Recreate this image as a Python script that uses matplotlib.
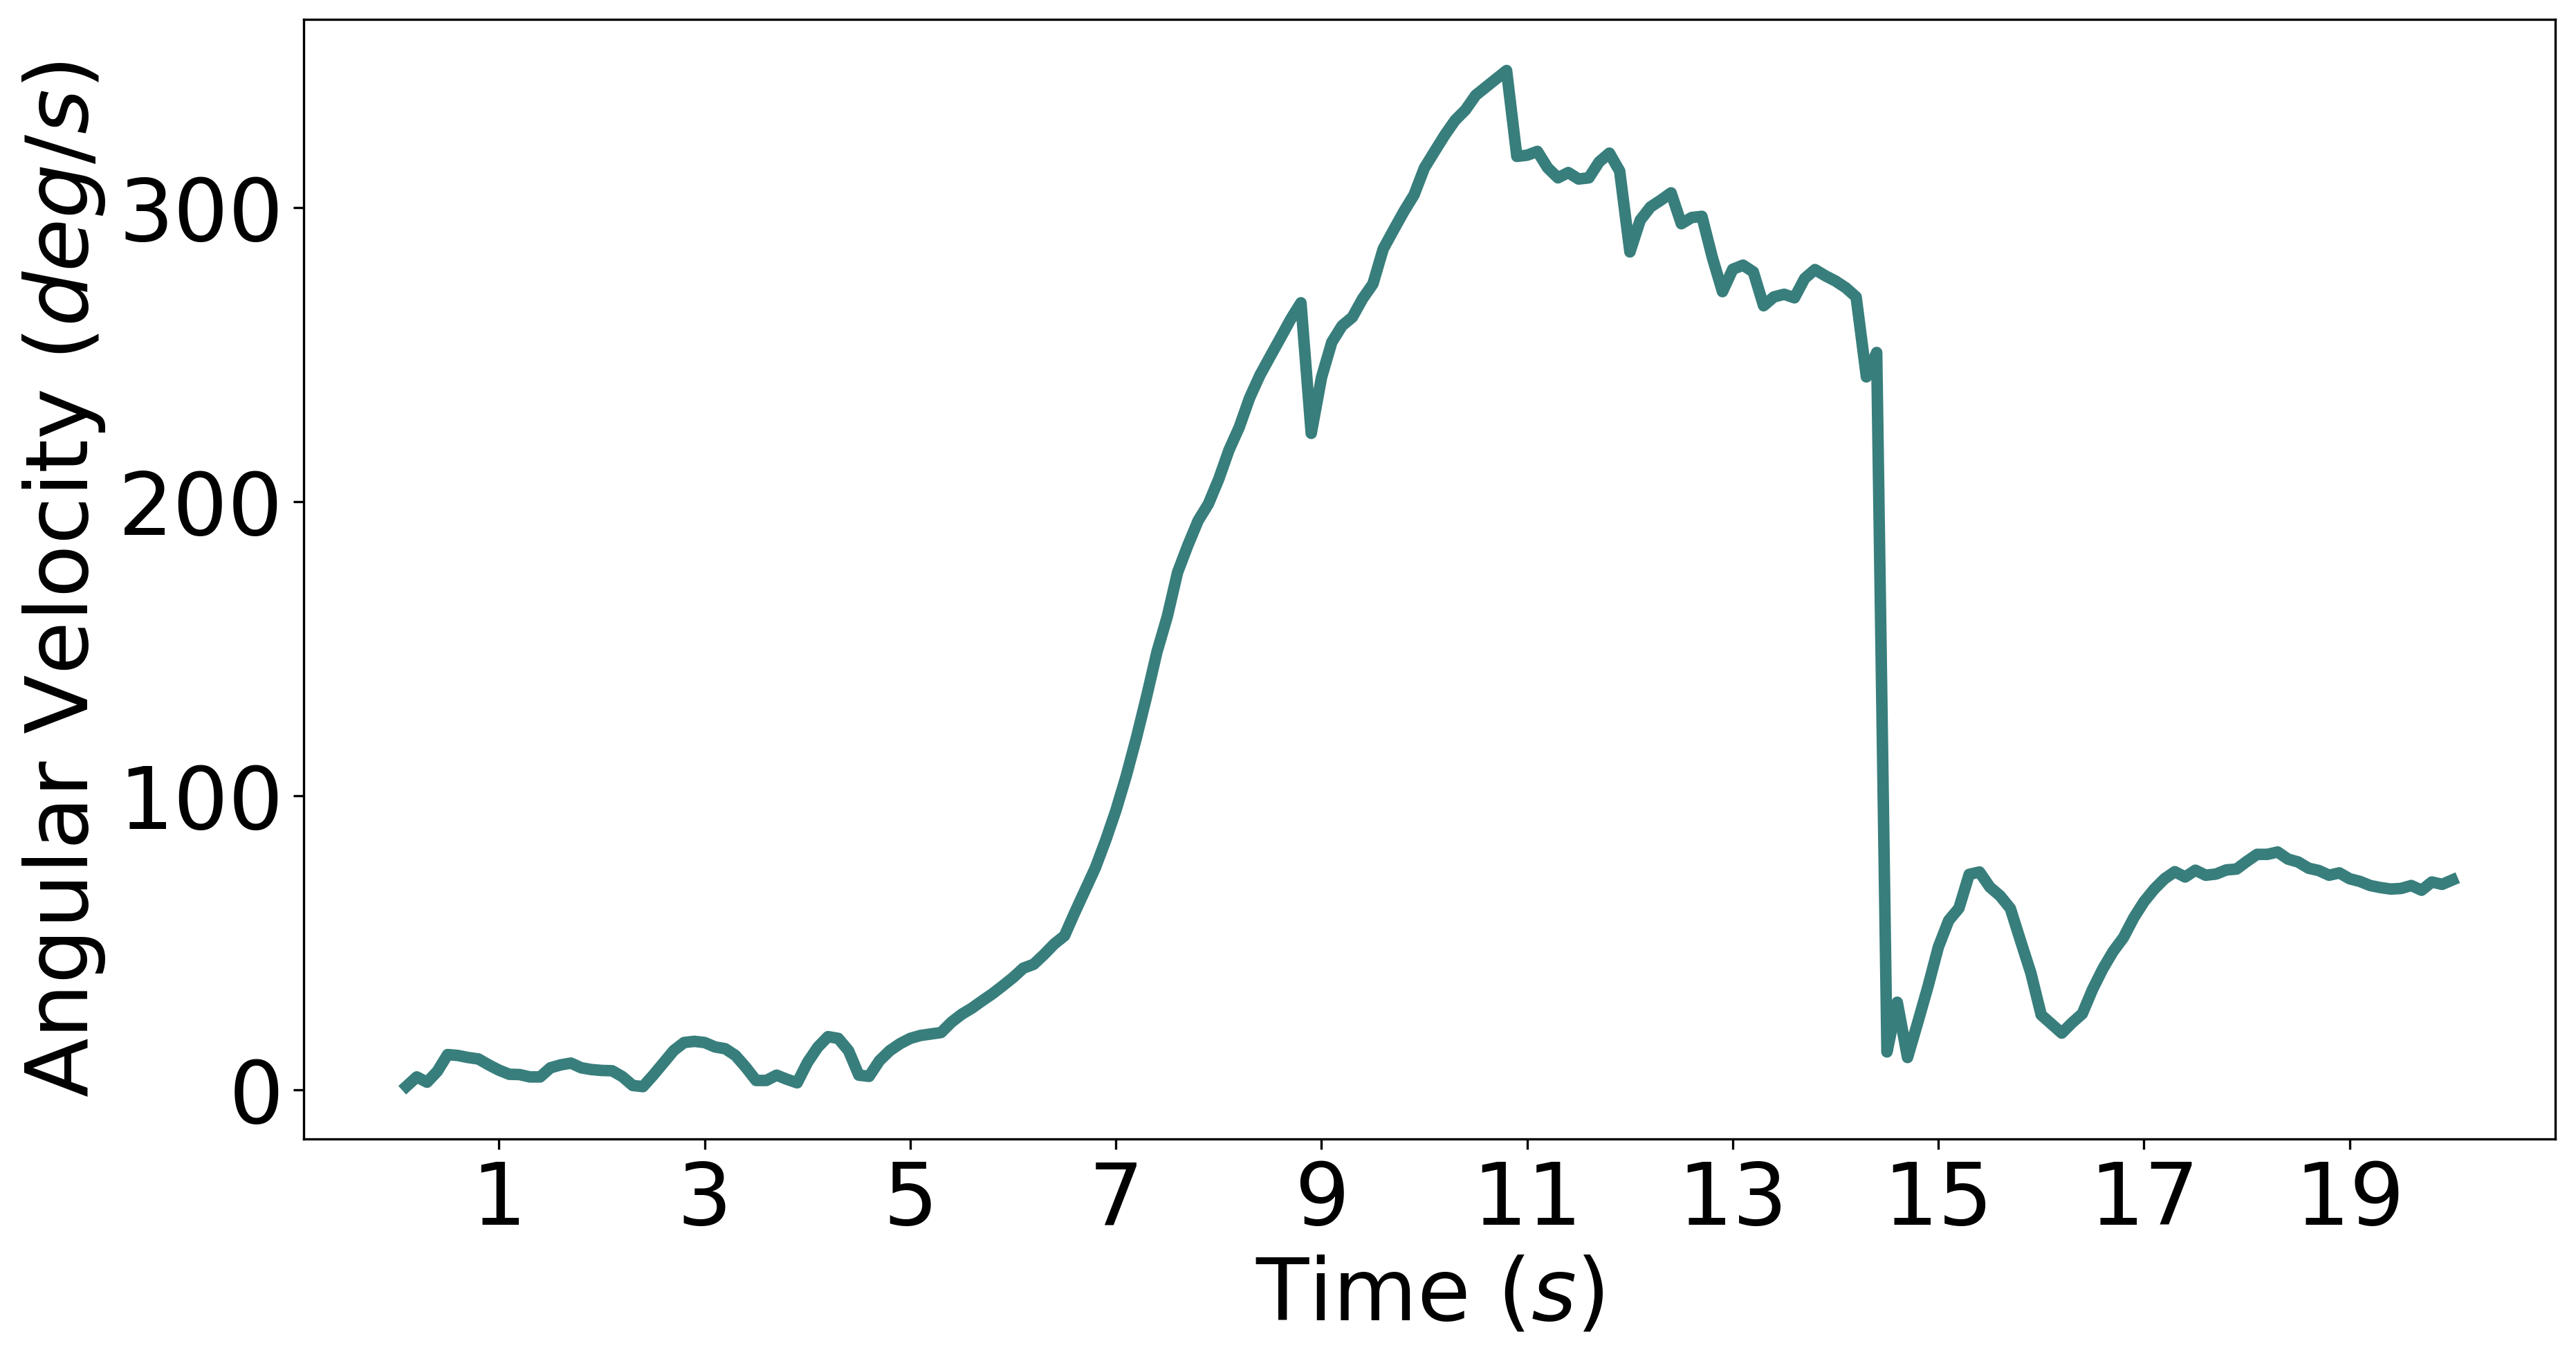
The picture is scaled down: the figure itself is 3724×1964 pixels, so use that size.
import numpy as np
import matplotlib.pyplot as plt

# angular velocity samples (deg/s), one every 0.1 s starting at 0.1 s
velocity = [
    1.2, 4.4, 2.6, 6.3, 12.0, 11.7, 11.0, 10.5, 8.5, 6.7,
    5.3, 5.2, 4.4, 4.4, 7.5, 8.5, 9.1, 7.5, 6.9, 6.6,
    6.5, 4.5, 1.5, 1.1, 5.0, 9.2, 13.4, 16.1, 16.5, 16.1,
    14.6, 14.0, 11.7, 7.7, 3.2, 3.2, 5.0, 3.6, 2.4, 9.3,
    14.5, 18.1, 17.5, 13.3, 5.0, 4.6, 9.9, 13.3, 15.7, 17.5,
    18.5, 19.0, 19.5, 23.0, 25.7, 27.8, 30.3, 32.7, 35.4, 38.2,
    41.4, 42.7, 46.0, 49.6, 52.4, 60.3, 67.9, 75.5, 84.8, 95.0,
    106.7, 119.8, 134.0, 149.0, 161.0, 176.0, 185.2, 193.6, 199.3, 207.7,
    217.6, 225.4, 235.3, 243.0, 249.4, 255.7, 262.1, 267.7, 223.3, 242.3,
    254.3, 259.9, 262.8, 269.1, 274.1, 286.0, 292.4, 298.7, 304.4, 313.5,
    319.2, 324.8, 329.8, 333.3, 338.3, 341.1, 343.9, 346.7, 317.5, 317.9,
    319.2, 313.6, 310.2, 312.0, 309.8, 310.2, 315.6, 318.6, 312.5, 285.0,
    295.8, 300.3, 302.6, 305.1, 294.6, 296.7, 297.1, 283.3, 271.5, 279.1,
    280.5, 278.2, 266.7, 269.7, 270.6, 269.4, 276.0, 279.0, 276.9, 275.1,
    272.8, 269.7, 242.5, 250.8, 12.9, 29.8, 11.0, 23.0, 35.3, 48.6,
    57.6, 61.8, 73.3, 74.1, 69.0, 66.0, 61.7, 50.6, 39.7, 25.5,
    22.4, 19.3, 22.8, 25.9, 34.2, 41.2, 47.1, 51.8, 58.5, 64.0,
    68.3, 71.8, 74.2, 72.4, 74.7, 73.0, 73.4, 74.8, 75.1, 77.7,
    80.1, 80.1, 80.9, 78.5, 77.5, 75.4, 74.6, 73.0, 73.8, 71.8,
    70.9, 69.5, 68.8, 68.3, 68.5, 69.5, 67.9, 70.7, 69.9, 71.4,
]
time = np.round(np.arange(1, len(velocity) + 1) * 0.1, 1)

x_ticks = [1, 3, 5, 7, 9, 11, 13, 15, 17, 19]
y_ticks = [0, 100, 200, 300]

fig = plt.figure(figsize=(3724 / 300, 1964 / 300), dpi=300)
ax = fig.add_axes([439 / 3724, 1 - 1646 / 1964, (3694 - 439) / 3724, (1646 - 28) / 1964])

ax.plot(time, velocity, color="#387e7c", linewidth=4)

ax.set_xlim(-0.9, 21.0)
ax.set_ylim(-16.7, 364.1)
ax.set_xticks(x_ticks)
ax.set_yticks(y_ticks)
ax.tick_params(labelsize=30)

ax.set_xlabel("Time ($s$)", fontsize=30)
ax.set_ylabel("Angular Velocity ($deg/s$)", fontsize=30)

fig.savefig("out.png", dpi=300)
